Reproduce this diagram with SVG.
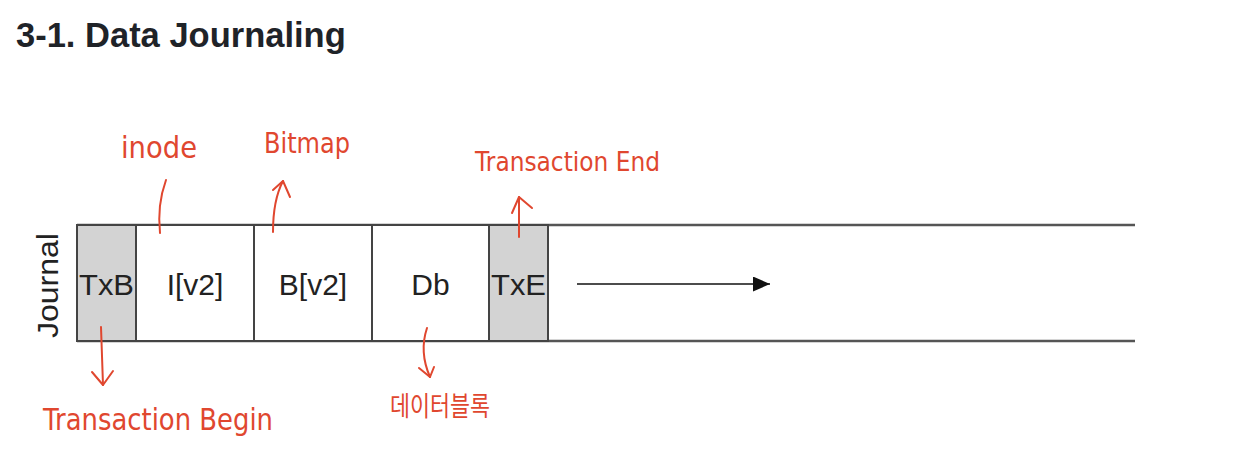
<svg xmlns="http://www.w3.org/2000/svg" width="1252" height="464" viewBox="0 0 1252 464">
  <defs>
    <style>
      .title { font-family: "Liberation Sans", Arial, sans-serif; font-weight: bold; font-size: 34.5px; fill: #1f2328; }
      .cell { stroke: #444; stroke-width: 2; }
      .white { fill: #ffffff; }
      .grey { fill: #d3d3d3; }
      .lbl { font-family: "Liberation Sans", Arial, sans-serif; font-size: 30px; fill: #222; text-anchor: middle; }
      .rail { stroke: #555; stroke-width: 2.5; fill: none; }
      .hand { font-family: "DejaVu Sans", "Noto Sans CJK KR", sans-serif; fill: #e0472f; }
      .red { stroke: #e0472f; stroke-width: 2; fill: none; stroke-linecap: round; stroke-linejoin: round; }
    </style>
    <marker id="tri" viewBox="0 0 10 10" refX="10" refY="5" markerWidth="17" markerHeight="15" markerUnits="userSpaceOnUse" orient="auto" preserveAspectRatio="none">
      <path d="M0,0 L10,5 L0,10 z" fill="#111"/>
    </marker>
  </defs>
  <rect x="0" y="0" width="1252" height="464" fill="#ffffff"/>
  <text class="title" x="16" y="47">3-1. Data Journaling</text>

  <g id="journal-label">
    <text class="lbl" transform="translate(58,285.5) rotate(-90)" font-size="32" textLength="105" lengthAdjust="spacingAndGlyphs">Journal</text>
  </g>

  <g id="journal-rail">
    <line class="rail" x1="77" y1="225" x2="1135" y2="225"/>
    <line class="rail" x1="77" y1="341" x2="1135" y2="341"/>
  </g>

  <g id="cell-txb">
    <rect class="cell grey" x="77" y="225" width="59" height="116"/>
    <text class="lbl" x="106.5" y="295" textLength="55" lengthAdjust="spacingAndGlyphs">TxB</text>
  </g>
  <g id="cell-iv2">
    <rect class="cell white" x="136" y="225" width="118" height="116"/>
    <text class="lbl" x="195" y="295">I[v2]</text>
  </g>
  <g id="cell-bv2">
    <rect class="cell white" x="254" y="225" width="118" height="116"/>
    <text class="lbl" x="313" y="295">B[v2]</text>
  </g>
  <g id="cell-db">
    <rect class="cell white" x="372" y="225" width="117" height="116"/>
    <text class="lbl" x="430.5" y="295">Db</text>
  </g>
  <g id="cell-txe">
    <rect class="cell grey" x="489" y="225" width="59" height="116"/>
    <text class="lbl" x="518.5" y="295" textLength="55" lengthAdjust="spacingAndGlyphs">TxE</text>
  </g>

  <g id="note-inode">
    <text class="hand" x="121" y="158" font-size="30" textLength="76" lengthAdjust="spacingAndGlyphs">inode</text>
  </g>
  <g id="note-bitmap">
    <text class="hand" x="264" y="153" font-size="28" textLength="86" lengthAdjust="spacingAndGlyphs">Bitmap</text>
  </g>
  <g id="note-txend">
    <text class="hand" x="475" y="171" font-size="26" textLength="185" lengthAdjust="spacingAndGlyphs">Transaction End</text>
  </g>
  <g id="note-txbegin">
    <text class="hand" x="43" y="430" font-size="30" textLength="230" lengthAdjust="spacingAndGlyphs">Transaction Begin</text>
  </g>
  <g id="note-datablock">
    <text class="hand" x="390" y="416" font-size="27" textLength="100" lengthAdjust="spacingAndGlyphs">데이터블록</text>
  </g>

  <g id="connectors">
    <line x1="577" y1="284" x2="770" y2="284" stroke="#111" stroke-width="1.6" marker-end="url(#tri)"/>
    <path class="red" d="M166,180 Q157,205 160,233"/>
    <path class="red" d="M273,232 Q273,200 283,181"/>
    <path class="red" d="M273,190 L283,181 L290,197"/>
    <path class="red" d="M519,237 L519,197"/>
    <path class="red" d="M512,213 L519,197 L532,208"/>
    <path class="red" d="M101,327 L103,385"/>
    <path class="red" d="M92,372 L103,385 L113,371"/>
    <path class="red" d="M427,328 Q419,352 430,377"/>
    <path class="red" d="M419,368 L430,377 L434,367"/>
  </g>
</svg>
